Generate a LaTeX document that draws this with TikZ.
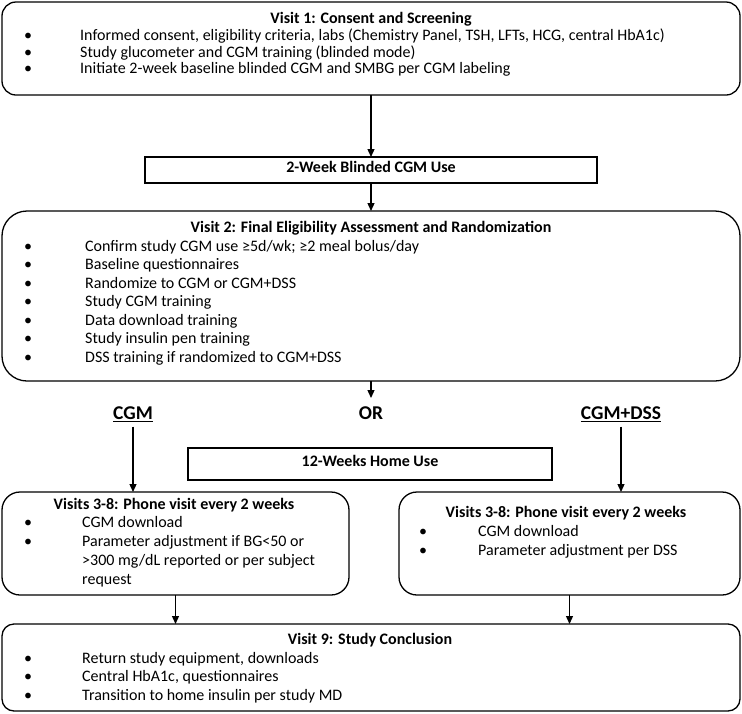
\documentclass[tikz,border=0pt]{standalone}
\usepackage{fontspec}
\setmainfont{Carlito}
\usetikzlibrary{arrows.meta}
\newcommand\Itm[5]{\node[bul] (#1b) at (#2,#4) {•}; \node[txt] (#1) at (#3,#4) {#5};}
\begin{document}
\begin{tikzpicture}[x=1pt,y=-1pt,
  box/.style={draw, line width=1.3pt, anchor=north west, inner sep=0pt, outer sep=0pt},
  txt/.style={anchor=mid west, inner sep=0pt, font=\fontsize{16}{18}\selectfont},
  ttl/.style={anchor=mid, inner sep=0pt, font=\fontsize{16}{18}\selectfont\bfseries},
  bul/.style={anchor=mid, inner sep=0pt, font=\fontsize{16}{18}\selectfont},
  lbl/.style={anchor=mid, inner sep=0pt, font=\fontsize{19.5}{22}\selectfont\bfseries},
  arr/.style={-{Triangle[length=8pt,width=7pt]}, line width=1.3pt}]
\useasboundingbox (0,0) rectangle (742,713);
% boxes
\node[box, rounded corners=14pt, minimum width=738pt, minimum height=93pt] (v1) at (2,2) {};
\node[box, minimum width=452pt, minimum height=26pt] (wk2) at (145,157) {};
\node[box, rounded corners=25pt, minimum width=738pt, minimum height=170pt] (v2) at (2,211) {};
\node[box, minimum width=364pt, minimum height=32pt] (wk12) at (188,448) {};
\node[box, rounded corners=18pt, minimum width=347pt, minimum height=103pt] (lb) at (2,492) {};
\node[box, rounded corners=18pt, minimum width=341pt, minimum height=103pt] (rb) at (399,492) {};
\node[box, rounded corners=12pt, minimum width=738pt, minimum height=87pt] (v9) at (2,624) {};
% visit 1
\node[ttl] (v1t) at (371,21) {Visit 1: Consent and Screening};
\Itm{v1a}{28}{80}{38.5}{Informed consent, eligibility criteria, labs (Chemistry Panel, TSH, LFTs, HCG, central HbA1c)}
\Itm{v1b}{28}{80}{55}{Study glucometer and CGM training (blinded mode)}
\Itm{v1c}{28}{80}{71.5}{Initiate 2-week baseline blinded CGM and SMBG per CGM labeling}
% 2 week
\node[ttl] (wk2t) at (wk2.center) {2-Week Blinded CGM Use};
% visit 2
\node[ttl] (v2t) at (371,230) {Visit 2: Final Eligibility Assessment and Randomization};
\Itm{v2a}{28}{85}{249}{Confirm study CGM use ≥5d/wk; ≥2 meal bolus/day}
\Itm{v2b}{28}{85}{267.5}{Baseline questionnaires}
\Itm{v2c}{28}{85}{286}{Randomize to CGM or CGM+DSS}
\Itm{v2d}{28}{85}{304.5}{Study CGM training}
\Itm{v2e}{28}{85}{323}{Data download training}
\Itm{v2f}{28}{85}{341.5}{Study insulin pen training}
\Itm{v2g}{28}{85}{360}{DSS training if randomized to CGM+DSS}
% labels
\node[lbl] (cgm) at (133,417) {\underline{CGM}};
\node[lbl] (or) at (371,417) {OR};
\node[lbl] (dss) at (621,417) {\underline{CGM+DSS}};
\node[ttl] (wk12t) at (wk12.center) {12-Weeks Home Use};
% left box
\node[ttl] (lbt) at (174,507) {Visits 3-8: Phone visit every 2 weeks};
\Itm{lba}{28}{82}{525}{CGM download}
\Itm{lbb}{28}{82}{544}{Parameter adjustment if BG<50 or}
\node[txt] (lbc) at (82,563) {>300 mg/dL reported or per subject};
\node[txt] (lbd) at (82,582) {request};
% right box
\node[ttl] (rbt) at (566,515) {Visits 3-8: Phone visit every 2 weeks};
\Itm{rba}{423}{478}{534}{CGM download}
\Itm{rbb}{423}{478}{553}{Parameter adjustment per DSS}
% visit 9
\node[ttl] (v9t) at (370,642) {Visit 9: Study Conclusion};
\Itm{v9a}{28}{82}{661}{Return study equipment, downloads}
\Itm{v9b}{28}{82}{679.5}{Central HbA1c, questionnaires}
\Itm{v9c}{28}{82}{698}{Transition to home insulin per study MD}
% connectors
\coordinate (orend) at (371,398);
\draw[arr] (v1.south) -- (wk2.north);
\draw[arr] (wk2.south) -- (v2.north);
\draw[arr] (v2.south) -- (orend);
\draw[arr] ([yshift=-5pt]cgm.south) -- (cgm.south |- lb.north);
\draw[arr] ([yshift=-5pt]dss.south) -- (dss.south |- rb.north);
\draw[arr] (lb.south) -- (lb.south |- v9.north);
\draw[arr] (rb.south) -- (rb.south |- v9.north);
\end{tikzpicture}
\end{document}
